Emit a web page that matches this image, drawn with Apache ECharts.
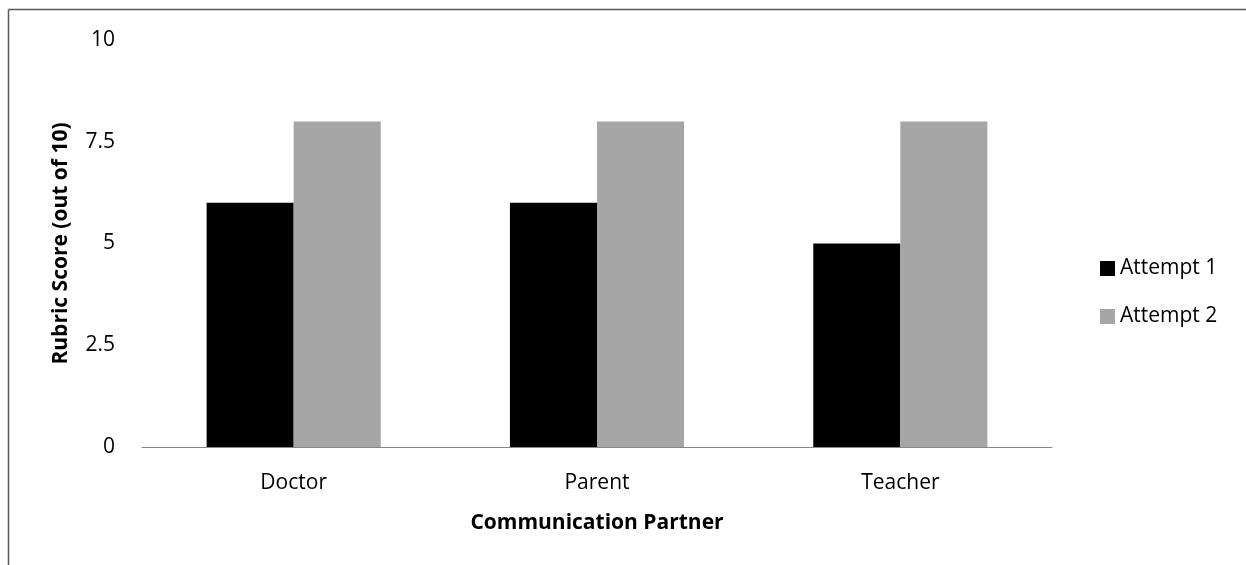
<!DOCTYPE html>
<html><head><meta charset="utf-8">
<script src="https://cdn.jsdelivr.net/npm/echarts@6/dist/echarts.min.js"></script>
<style>html,body{margin:0;padding:0;background:#fff}#c{width:1246px;height:565px}</style>
</head><body><div id="c"></div>
<script>
const categories = ['Doctor', 'Parent', 'Teacher'];
const attempt1 = [6, 6, 5];
const attempt2 = [8, 8, 8];
const yTicks = [0, 2.5, 5, 7.5, 10];
const FONT = '"Open Sans", "Liberation Sans", sans-serif';
const FS = 21;
const chart = echarts.init(document.getElementById('c'));
chart.setOption({
  animation: false,
  backgroundColor: '#fff',
  textStyle: { fontFamily: FONT },
  grid: { left: 142, right: 194, top: 40, bottom: 118, containLabel: false },
  legend: {
    orient: 'vertical', left: 1095, top: 253, itemWidth: 15, itemHeight: 15, itemGap: 27,
    icon: 'rect',
    textStyle: { fontSize: FS, color: '#000', fontFamily: FONT, padding: [0, 0, 0, 0] },
    data: ['Attempt 1', 'Attempt 2']
  },
  xAxis: {
    type: 'category', data: categories,
    name: 'Communication Partner', nameLocation: 'middle', nameGap: 66,
    nameTextStyle: { fontSize: FS, fontWeight: 'bold', color: '#000', fontFamily: FONT },
    axisLine: { lineStyle: { color: '#868686', width: 1 } },
    axisTick: { show: false },
    axisLabel: { fontSize: FS, color: '#000', margin: 26, fontFamily: FONT }
  },
  yAxis: {
    type: 'value', min: yTicks[0], max: yTicks[yTicks.length - 1], interval: 2.5,
    name: 'Rubric Score (out of 10)', nameLocation: 'middle', nameGap: 70,
    nameTextStyle: { fontSize: FS, fontWeight: 'bold', color: '#000', fontFamily: FONT },
    axisLine: { show: false }, axisTick: { show: false }, splitLine: { show: false },
    axisLabel: { fontSize: FS, color: '#000', margin: 27, fontFamily: FONT }
  },
  series: [
    { name: 'Attempt 1', type: 'bar', data: attempt1, itemStyle: { color: '#000000' }, barGap: '0%', barCategoryGap: '42.6%' },
    { name: 'Attempt 2', type: 'bar', data: attempt2, itemStyle: { color: '#a6a6a6' }, barGap: '0%', barCategoryGap: '42.6%' }
  ],
  graphic: [
    { type: 'line', shape: { x1: 8.5, y1: 9.5, x2: 1246, y2: 9.5 }, style: { stroke: '#595959', lineWidth: 1.5 } },
    { type: 'line', shape: { x1: 8.5, y1: 9.5, x2: 8.5, y2: 565 }, style: { stroke: '#595959', lineWidth: 1.5 } }
  ]
});
</script></body></html>
